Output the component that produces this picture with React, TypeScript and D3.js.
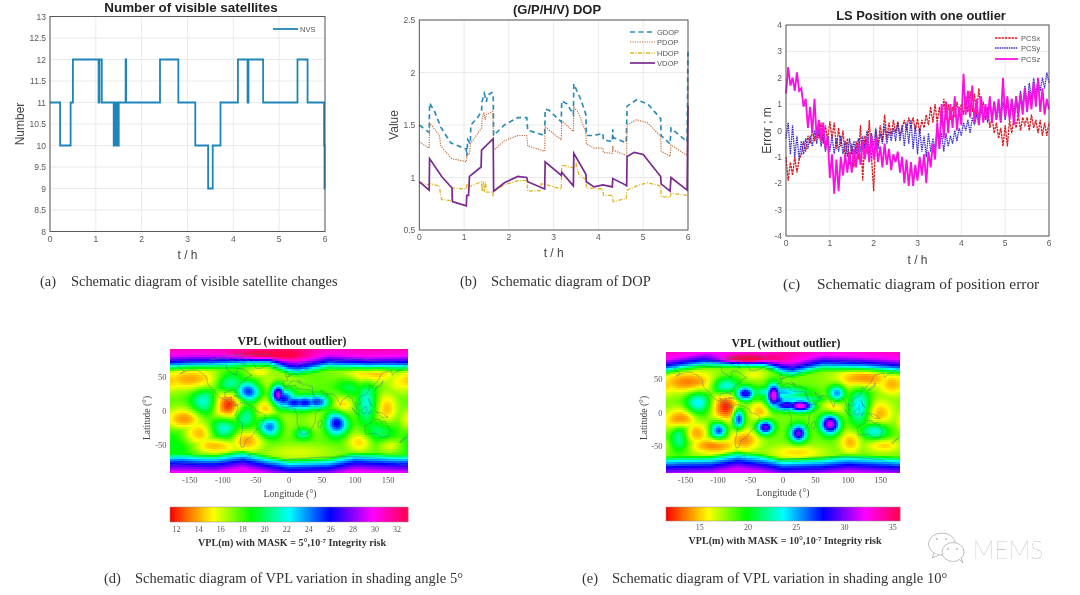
import React, { useMemo } from "react";
import * as d3 from "d3";

// ---------- panel (a) ----------
const nvsSteps: [number, number][] = [[0,11],[.22,10],[.45,11],[.5,12],[1.06,11],[1.08,12],[1.13,11],[1.39,10],[1.41,11],[1.42,10],[1.44,11],[1.45,10],[1.47,11],[1.48,10],[1.5,11],[1.65,12],[1.66,11],[2.4,12],[2.8,11],[3.17,10],[3.45,9],[3.55,10],[3.72,11],[4.1,12],[4.31,11],[4.33,12],[4.65,11],[5.4,12],[5.62,11],[5.98,10],[5.99,9],[6,9]];
const nvsTicksY = [8,8.5,9,9.5,10,10.5,11,11.5,12,12.5,13];
const hourTicks = [0,1,2,3,4,5,6];

// ---------- panel (b) ----------
const gdop: [number,number][] = [[0,1.5],[.22,1.43],[.23,1.71],[.35,1.62],[.48,1.48],[.7,1.33],[1.05,1.27],[1.06,1.2],[1.08,1.36],[1.14,1.32],[1.15,1.5],[1.3,1.57],[1.39,1.63],[1.4,1.72],[1.45,1.8],[1.5,1.72],[1.52,1.78],[1.62,1.81],[1.65,1.8],[1.66,1.4],[1.9,1.5],[2.2,1.57],[2.4,1.57],[2.42,1.45],[2.8,1.4],[2.81,1.65],[2.9,1.64],[3.17,1.53],[3.18,1.73],[3.3,1.7],[3.44,1.6],[3.45,1.89],[3.6,1.75],[3.72,1.6],[3.73,1.4],[3.9,1.4],[4.1,1.42],[4.11,1.36],[4.31,1.34],[4.32,1.46],[4.33,1.38],[4.62,1.33],[4.64,1.68],[4.85,1.74],[5.1,1.7],[5.39,1.56],[5.4,1.4],[5.6,1.32],[5.62,1.47],[5.98,1.34],[6,2.2]];
const pdop: [number,number][] = [[0,1.34],[.22,1.28],[.23,1.52],[.45,1.4],[.48,1.3],[.72,1.18],[1.05,1.15],[1.06,1.22],[1.12,1.22],[1.14,1.32],[1.39,1.47],[1.4,1.55],[1.44,1.62],[1.47,1.55],[1.5,1.6],[1.64,1.63],[1.66,1.26],[1.9,1.35],[2.2,1.4],[2.4,1.4],[2.42,1.3],[2.8,1.25],[2.81,1.48],[3.17,1.36],[3.18,1.54],[3.44,1.44],[3.45,1.67],[3.55,1.62],[3.72,1.43],[3.73,1.32],[3.9,1.28],[4.1,1.28],[4.11,1.24],[4.31,1.23],[4.32,1.3],[4.33,1.26],[4.63,1.21],[4.64,1.5],[4.85,1.55],[5.1,1.52],[5.39,1.39],[5.4,1.25],[5.6,1.2],[5.62,1.31],[5.98,1.21],[6,1.93]];
const hdop: [number,number][] = [[0,.95],[.22,.93],[.25,.94],[.45,.92],[.47,.85],[.5,.79],[.72,.78],[.74,.9],[1.05,.89],[1.06,.94],[1.1,.91],[1.39,.96],[1.4,.87],[1.43,.96],[1.45,.86],[1.48,.96],[1.5,.86],[1.64,.86],[1.65,.82],[1.66,.87],[1.9,.93],[2.2,.97],[2.4,.97],[2.42,.87],[2.7,.875],[2.72,.94],[2.85,.93],[3.17,.89],[3.18,1.12],[3.45,1.09],[3.5,1.13],[3.56,1.03],[3.72,.98],[3.73,.9],[4.1,.89],[4.11,.83],[4.31,.83],[4.33,.77],[4.62,.8],[4.64,.88],[4.85,.92],[5.1,.95],[5.39,.92],[5.4,.82],[5.6,.81],[5.62,.85],[5.98,.83],[6,.85]];
const vdop: [number,number][] = [[0,.96],[.22,.88],[.23,1.18],[.5,1.01],[.73,.9],[.74,.77],[1.05,.73],[1.06,.83],[1.1,.83],[1.12,1.01],[1.38,1.1],[1.39,1.26],[1.65,1.37],[1.66,.87],[1.9,.95],[2.2,1.01],[2.4,1.0],[2.42,.96],[2.8,.89],[2.81,1.15],[3.17,1.02],[3.18,1.05],[3.44,.92],[3.45,1.23],[3.72,1.03],[3.73,.96],[3.9,.91],[4.1,.93],[4.31,.91],[4.32,.99],[4.6,.93],[4.63,.92],[4.64,1.2],[4.8,1.24],[5.0,1.22],[5.39,1.01],[5.4,.94],[5.6,.87],[5.62,1.0],[5.98,.88],[6,1.68]];
const dopTicksY = [.5,1,1.5,2,2.5];

// ---------- panel (c): one reading every 0.05 h ----------
const pcsStep = 0.05;
const pcsx = [-1.0,-1.9,-1.2,-1.7,-1.0,-1.6,-1.1,-0.9,-0.4,-0.8,-0.2,-0.5,0.0,-0.4,0.1,-0.3,0.3,-0.5,0.2,-0.4,0.35,-0.3,0.3,-0.7,0.1,-0.6,0.0,-1.0,-0.3,-1.3,-0.5,-1.4,-0.4,-1.1,0.2,-1.9,-0.2,-0.9,0.4,-1.0,-2.3,0.0,-0.6,0.2,-0.4,0.6,-0.3,0.3,-0.2,0.4,-0.1,0.35,-0.2,0.1,0.4,0.0,0.5,0.1,0.5,0.0,0.45,-0.1,0.4,0.1,0.6,0.2,0.9,0.3,1.0,0.3,0.9,0.2,1.2,0.4,1.0,0.4,0.9,0.5,1.1,0.6,1.0,0.6,1.3,0.7,1.5,0.7,1.4,0.6,1.6,0.8,1.1,0.4,0.9,0.1,0.5,-0.1,0.3,-0.3,0.1,-0.6,0.2,-0.6,0.4,-0.1,0.5,0.1,0.6,0.0,0.5,0.2,0.5,0.0,0.6,0.1,0.4,-0.1,0.4,-0.2,0.3,-0.2,0.3];
const pcsy = [-0.3,0.3,-0.9,0.2,-1.0,-0.2,-1.1,-0.4,-0.9,-0.3,-0.7,-0.2,-0.6,0.0,-0.5,0.1,-0.6,-0.1,-0.8,-0.2,-0.8,-0.2,-0.9,-0.3,-0.8,-0.2,-0.9,-0.4,-1.0,-0.3,-0.9,-0.4,-0.9,-0.3,-0.8,-0.2,-0.7,0.0,-0.8,-0.1,-0.6,0.1,-0.7,-0.1,-0.5,0.2,-0.5,0.0,-0.4,0.1,-0.4,0.3,-0.4,0.2,-0.6,0.3,-0.5,0.4,-0.7,0.2,-0.9,0.1,-0.8,-0.2,-1.0,-0.1,-0.8,-0.3,-0.7,0.1,-0.7,-0.1,-0.8,-0.1,-0.6,-0.2,-0.5,0.0,-0.4,0.1,-0.2,0.3,0.0,0.4,-0.1,0.5,0.2,0.6,0.2,0.8,0.4,0.9,0.3,1.0,0.5,1.1,0.4,0.9,0.3,1.1,0.4,1.0,0.5,1.2,0.7,1.3,0.8,1.5,0.9,1.7,1.0,1.8,1.2,2.0,1.4,1.9,1.5,2.0,1.6,2.2,1.8];
const pcsz = [1.4,2.4,1.7,2.0,1.5,2.2,1.5,1.6,0.9,1.2,0.1,0.9,-0.1,1.2,-0.3,0.4,-0.4,0.3,-0.7,-0.2,-1.8,-0.9,-2.4,-1.1,-2.3,-1.0,-1.7,-0.9,-1.6,-0.8,-1.6,-0.7,-1.4,-0.5,-1.3,-0.4,-1.1,-0.3,-1.2,-0.2,-1.1,-0.3,-1.2,-0.6,-1.4,-0.5,-1.3,-0.7,-1.5,-0.9,-1.2,-0.8,-1.6,-1.0,-2.0,-1.1,-2.1,-1.2,-2.1,-1.3,-1.9,-1.0,-1.7,-0.9,-2.0,-0.8,-1.4,-0.5,-1.1,0.3,-0.7,1.0,-0.3,1.1,-0.1,1.0,0.1,1.3,0.0,0.9,0.2,2.15,0.6,1.5,0.5,1.7,0.3,1.2,0.2,1.3,0.3,1.0,0.4,1.3,0.3,1.1,0.4,1.2,0.3,2.0,0.5,1.3,0.4,1.2,0.2,1.3,0.5,1.4,0.6,1.6,0.7,1.5,0.8,1.8,0.9,2.0,0.7,1.6,0.6,1.2,0.8];
const pcsTicksY = [-4,-3,-2,-1,0,1,2,3,4];

// ---------- panels (d), (e): VPL hot and cold centres [lon, lat, rLon, rLat, VPL] ----------
type Blob = [number,number,number,number,number];
const vplBlobsD: Blob[] = [
  [-148,46,22,8,13.8],[-178,44,12,8,14.5],[-92,9,11,10,11.8],[-160,-13,13,8,13],[-140,-33,13,9,13.8],[-110,-50,18,6,14],[-64,-43,13,8,13.8],
  [-34,4,8,8,14.2],[-44,56,9,4,15.2],[123,54,20,7,14],[172,42,12,8,15],[82,9,8,8,14.5],[148,2,8,12,14.2],[107,-45,9,7,14.5],[153,-50,9,5,15.5],[14,-60,28,6,15.8],
  [-20,42,18,9,16],[45,-15,12,10,16.3],[-5,-15,10,12,16.5],
  [-127,14,10,9,22],[-97,-25,10,8,22],[-89,39,10,8,21.5],[-62,28,9,7,25.5],[-67,-8,8,9,21.5],[-29,-23,8,7,24.5],
  [-16,24,5,7,29.5],[-8,18,9,7,26],[8,12,11,5,26],[24,12,10,5,26],[42,13,9,5,25.5],
  [72,-18,8,8,26.5],[22,-33,6,4,21.5],[118,12,7,15,21.8],[92,34,10,8,20],[138,-28,12,8,20.5],[-165,-45,12,15,19.5]];
const vplBlobsE: Blob[] = [
  [-145,45,22,8,13.5],[-178,42,10,8,15],[-88,8,10,10,12],[-158,-12,11,8,12.8],[-137,-31,12,8,14],[-106,-49,18,6,13.5],[-60,-41,12,8,13.8],
  [-35,3,8,8,14.5],[124,50,20,7,13.5],[168,42,11,8,14.5],[78,8,8,8,15],[147,-2,11,10,14.3],[104,-44,8,8,14.5],[155,-49,13,5,15],[22,-59,20,5,15.2],[-44,56,10,4,16],
  [-14,25,5,8,33],[-10,18,8,5,28],[6,11,12,4,29],[27,10,9,4,33],[-58,28,7,5,29],[-68,-9,4,7,28],[-27,-22,6,5,30],[24,-31,6,6,30],[73,-17,7,7,32],
  [-99,-27,6,6,27],[83,28,6,6,26],[-130,15,9,8,24],[-88,40,10,6,24],[119,8,8,13,24.5],[142,-27,10,6,24],[-158,-36,7,10,23.5],[-5,30,20,4,25],[10,20,25,3,24]];
const redTopD: Blob[] = [[-38,81,24,3.5,23]];
const redTopE: Blob[] = [[-55,79,20,3.5,28]];
const topEdgeLon = [-180,-120,-60,-30,0,15,60,120,180];
const topEdgeLatD = [64,66,70,70,58,57,66,62,64];
const topEdgeLatE = [62,72,73,72,60,58,68,66,62];
const botEdgeLon = [-180,-110,-70,-30,0,60,100,180];
const botEdgeLatD = [-68,-68,-62,-70,-75,-73,-65,-69];
const botEdgeLatE = [-71,-69,-62,-67,-73,-71,-67,-71];
const colorStopPos = [0,.07,.18,.34,.5,.67,.85,1];
const colorStopHex = ["#ff0000","#ff6a00","#ffff00","#00ff00","#00ffff","#0000ff","#ff00ff","#ff0048"];
const lonTicks = [-150,-100,-50,0,50,100,150];
const latTicks = [-50,0,50];
const cbTicksD = [12,14,16,18,20,22,24,26,28,30,32];
const cbTicksE = [15,20,25,30,35];

// ---------- coastlines [lon, lat] ----------
const coasts: [number,number][][] = [
  [[-168,66],[-156,71],[-140,70],[-125,70],[-110,68],[-95,68],[-94,60],[-85,55],[-80,52],[-79,57],[-78,62],[-70,61],[-65,58],[-60,54],[-56,52],[-65,48],[-66,44],[-70,42],[-74,40],[-76,35],[-81,31],[-80,26],[-82,28],[-84,30],[-90,29],[-97,27],[-97,20],[-91,18],[-87,21],[-88,16],[-83,12],[-80,9],[-78,8],[-83,8],[-90,13],[-96,16],[-105,20],[-110,25],[-114,31],[-117,33],[-122,38],[-124,43],[-124,48],[-130,54],[-138,59],[-148,60],[-155,58],[-165,54],[-158,58],[-165,62],[-168,66]],
  [[-73,78],[-60,82],[-30,83],[-20,75],[-25,70],[-42,62],[-50,62],[-54,70],[-68,76],[-73,78]],
  [[-78,8],[-72,12],[-62,10],[-52,5],[-50,0],[-40,-3],[-35,-7],[-39,-15],[-41,-22],[-48,-26],[-54,-34],[-58,-38],[-65,-42],[-68,-52],[-72,-53],[-74,-45],[-71,-30],[-70,-18],[-76,-14],[-81,-5],[-78,2],[-78,8]],
  [[-6,35],[10,37],[11,33],[20,31],[32,31],[35,28],[38,18],[43,12],[51,12],[47,3],[40,-4],[40,-15],[35,-24],[28,-33],[19,-34],[15,-26],[12,-16],[13,-6],[9,0],[9,4],[-4,5],[-10,6],[-17,14],[-16,21],[-10,30],[-6,35]],
  [[-9,37],[-9,43],[-1,44],[-4,48],[8,54],[12,54],[21,57],[29,60],[22,61],[22,66],[16,62],[6,60],[14,68],[28,71],[40,67],[60,69],[70,73],[85,74],[105,77],[130,72],[160,70],[178,66],[170,60],[162,57],[156,52],[155,59],[140,55],[135,44],[128,38],[126,34],[122,38],[121,31],[117,24],[108,21],[106,16],[109,12],[105,9],[100,13],[103,2],[98,9],[96,17],[90,22],[80,15],[78,8],[73,18],[67,25],[57,25],[52,28],[48,30],[52,24],[59,22],[52,16],[43,12],[36,28],[35,36],[28,37],[26,40],[22,37],[19,42],[13,45],[18,40],[12,42],[8,44],[3,43],[0,39],[-5,36],[-9,37]],
  [[114,-22],[122,-18],[130,-12],[136,-12],[140,-17],[145,-15],[153,-27],[150,-37],[140,-38],[131,-32],[116,-34],[114,-22]],
  [[109,1],[117,7],[118,1],[115,-4],[110,-2],[109,1]],
  [[95,5],[104,-3],[106,-6],[100,-3],[95,5]],
  [[131,-1],[141,-3],[150,-9],[141,-9],[135,-4],[131,-1]],
  [[119,-3],[125,1],[122,-5],[119,-3]],
  [[120,18],[122,14],[126,7],[123,10],[120,18]],
  [[130,32],[136,35],[141,38],[142,44],[140,40],[133,35],[130,32]],
  [[44,-16],[49,-13],[50,-18],[47,-25],[44,-22],[44,-16]],
  [[-5,50],[1,51],[-2,56],[-5,58],[-5,54],[-5,50]],
  [[-24,65],[-14,66],[-15,64],[-22,63],[-24,65]],
  [[-84,22],[-75,20],[-78,22],[-84,22]],
  [[167,-46],[172,-41],[178,-38],[174,-41],[171,-45],[167,-46]],
  [[-120,74],[-100,76],[-85,73],[-75,70],[-65,66],[-70,72],[-85,80],[-70,83],[-95,80],[-120,74]],
  [[-180,-78],[-150,-76],[-100,-74],[-75,-71],[-58,-63],[-60,-70],[-30,-77],[0,-70],[50,-67],[100,-66],[150,-70],[170,-78],[180,-78]],
];

// ---------- shared drawing ----------
const SANS = "'Liberation Sans', Arial, sans-serif";
const SERIF = "'Liberation Serif', 'Times New Roman', serif";
const GRID = "#e4e4e4", BOX = "#4a4a4a", TICK = "#5a5a5a";

type Frame = { x0:number; x1:number; y0:number; y1:number };
function LineAxes({ f, xs, ys, yDomain, title, titleX, titleY, titleSize, yLabel, yLabelX, xLabelY }: any) {
  const x = d3.scaleLinear().domain([0,6]).range([f.x0,f.x1]);
  const y = d3.scaleLinear().domain(yDomain).range([f.y1,f.y0]);
  return (
    <g fontFamily={SANS}>
      {xs.map((t:number)=><line key={t} x1={x(t)} x2={x(t)} y1={f.y0} y2={f.y1} stroke={GRID} strokeWidth={.8}/>)}
      {ys.map((t:number)=><line key={t} x1={f.x0} x2={f.x1} y1={y(t)} y2={y(t)} stroke={GRID} strokeWidth={.8}/>)}
      {xs.map((t:number)=><text key={t} x={x(t)} y={f.y1+10} textAnchor="middle" fontSize={8.5} fill={TICK}>{t}</text>)}
      {ys.map((t:number)=><text key={t} x={f.x0-4} y={y(t)+3} textAnchor="end" fontSize={8.5} fill={TICK}>{t}</text>)}
      <text x={titleX} y={titleY} textAnchor="middle" fontSize={titleSize} fontWeight="bold" fill="#222">{title}</text>
      <text transform={`translate(${yLabelX},${(f.y0+f.y1)/2}) rotate(-90)`} textAnchor="middle" fontSize={12} fill="#444">{yLabel}</text>
      <text x={(f.x0+f.x1)/2} y={xLabelY} textAnchor="middle" fontSize={12} fill="#444">t / h</text>
    </g>
  );
}
const Box = ({ f }: { f: Frame }) => <rect x={f.x0} y={f.y0} width={f.x1-f.x0} height={f.y1-f.y0} fill="none" stroke={BOX} strokeWidth={.9}/>;

const BLOB_SPREAD = 1.45;
function vplField(blobs: Blob[], topLat: number[], botLat: number[], base: number, scale: number) {
  const top = d3.scaleLinear().domain(topEdgeLon).range(topLat);
  const bot = d3.scaleLinear().domain(botEdgeLon).range(botLat);
  const riseTop = d3.scaleLinear().domain([-8,0,3,8,17,30]).range([0,4,6.5,9,12.5,14]).clamp(true);
  const riseBot = d3.scaleLinear().domain([-6,0,5,11,21]).range([0,4,6.5,8.8,12]).clamp(true);
  return (lon:number, lat:number) => {
    let up = 0, down = 0;
    for (const [bx,by,rx,ry,p] of blobs) {
      let dl = Math.abs(lon-bx); if (dl>180) dl = 360-dl;
      const c = (p-base)*Math.exp(-.5*((dl/(rx*BLOB_SPREAD))**2+((lat-by)/(ry*BLOB_SPREAD))**2));
      if (c>up) up = c; if (c<down) down = c;
    }
    return base + up + down + scale*(riseTop(lat-top(lon)) + riseBot(bot(lon)-lat));
  };
}

function VplMap({ blobs, topLat, botLat, extra, base, scale, dom, m, bar, cbTicks, title, titleX, titleY, latX, lonLabelX, lonLabelY, cbLabel, cbLabelX, cbLabelY, cbTickY, id }: any) {
  const x = d3.scaleLinear().domain([-180,180]).range([m.x0,m.x1]);
  const y = d3.scaleLinear().domain([90,-90]).range([m.y0,m.y1]);
  const hue = d3.scaleLinear<string>().domain(colorStopPos).range(colorStopHex).interpolate(d3.interpolateRgb).clamp(true);
  const val = d3.scaleLinear().domain(dom).range([0,1]).clamp(true);
  const cells = useMemo(() => {
    const f = vplField(blobs.concat(extra), topLat, botLat, base, scale);
    const out: any[] = [];
    const cell = 2;
    for (let py=m.y0; py<m.y1; py+=cell) for (let px=m.x0; px<m.x1; px+=cell) {
      const lon = x.invert(px+cell/2), lat = y.invert(py+cell/2);
      out.push({ px, py, c: hue(val(f(lon,lat))) });
    }
    return out;
  }, []);
  const coast = d3.line<[number,number]>().x(d=>x(d[0])).y(d=>y(d[1]));
  const barX = d3.scaleLinear().domain(dom).range([bar.x0,bar.x1]);
  const barCells = d3.range(bar.x0,bar.x1,1);
  const clip = `mapclip-${id}`;
  return (
    <g>
      <clipPath id={clip}><rect x={m.x0} y={m.y0} width={m.x1-m.x0} height={m.y1-m.y0}/></clipPath>
      <g clipPath={`url(#${clip})`}>
        {cells.map((c,i)=><rect key={i} x={c.px} y={c.py} width={2.2} height={2.2} fill={c.c}/>)}
        {coasts.map((c,i)=><path key={i} d={coast(c)!} fill="none" stroke="#3f6e8c" strokeWidth={.55} strokeOpacity={.75}/>)}
      </g>
      <text x={titleX} y={titleY} textAnchor="middle" fontFamily={SERIF} fontWeight="bold" fontSize={11.8} fill="#222">{title}</text>
      {lonTicks.map(t=><text key={t} x={x(t)} y={m.y1+10} textAnchor="middle" fontFamily={SERIF} fontSize={8.5} fill="#555">{t}</text>)}
      {latTicks.map(t=><text key={t} x={m.x0-3.5} y={y(t)+3} textAnchor="end" fontFamily={SERIF} fontSize={8.5} fill="#555">{t}</text>)}
      <text transform={`translate(${latX},418) rotate(-90)`} textAnchor="middle" fontFamily={SERIF} fontSize={9.5} fill="#444">Latitude (°)</text>
      <text x={lonLabelX} y={lonLabelY} textAnchor="middle" fontFamily={SERIF} fontSize={9.8} fill="#444">Longitude (°)</text>
      {barCells.map(px=><rect key={px} x={px} y={bar.y0} width={1.3} height={bar.y1-bar.y0} fill={hue((px-bar.x0)/(bar.x1-bar.x0))}/>)}
      <rect x={bar.x0} y={bar.y0} width={bar.x1-bar.x0} height={bar.y1-bar.y0} fill="none" stroke="#888" strokeWidth={.5}/>
      {cbTicks.map((t:number)=><text key={t} x={barX(t)} y={cbTickY} textAnchor="middle" fontFamily={SERIF} fontSize={8} fill="#555">{t}</text>)}
      <text x={cbLabelX} y={cbLabelY} textAnchor="middle" fontFamily={SERIF} fontWeight="bold" fontSize={10.1} fill="#333">VPL(m) with MASK = {cbLabel}°,10<tspan dy={-3} fontSize={7}>-7</tspan><tspan dy={3}> Integrity risk</tspan></text>
    </g>
  );
}

export default function App() {
  const fa: Frame = { x0:50, x1:325, y0:16.5, y1:231.5 };
  const fb: Frame = { x0:419.3, x1:688, y0:20, y1:230 };
  const fc: Frame = { x0:786, x1:1049, y0:25, y1:236 };
  const xa = d3.scaleLinear().domain([0,6]).range([fa.x0,fa.x1]);
  const ya = d3.scaleLinear().domain([8,13]).range([fa.y1,fa.y0]);
  const xb = d3.scaleLinear().domain([0,6]).range([fb.x0,fb.x1]);
  const yb = d3.scaleLinear().domain([.5,2.5]).range([fb.y1,fb.y0]);
  const xc = d3.scaleLinear().domain([0,6]).range([fc.x0,fc.x1]);
  const yc = d3.scaleLinear().domain([-4,4]).range([fc.y1,fc.y0]);
  const stepLine = d3.line<[number,number]>().x(d=>xa(d[0])).y(d=>ya(d[1])).curve(d3.curveStepAfter);
  const dopLine = d3.line<[number,number]>().x(d=>xb(d[0])).y(d=>yb(d[1]));
  const pcsLine = d3.line<number>().x((_,i)=>xc(i*pcsStep)).y(d=>yc(d));
  const dopSeries = [
    { n:"GDOP", d:gdop, c:"#2f8db6", w:1.7, dash:"5 3.5" },
    { n:"PDOP", d:pdop, c:"#c4703f", w:1.2, dash:"1.2 1.2" },
    { n:"HDOP", d:hdop, c:"#e0b522", w:1.3, dash:"4 1.5 1 1.5" },
    { n:"VDOP", d:vdop, c:"#7a2a8f", w:1.7, dash:"" },
  ];
  const pcsSeries = [
    { n:"PCSx", d:pcsx, c:"#d9181e", w:1.3, dash:"2.5 .8" },
    { n:"PCSy", d:pcsy, c:"#3528cf", w:1.3, dash:"1.5 .8" },
    { n:"PCSz", d:pcsz, c:"#ff08e4", w:1.8, dash:"" },
  ];
  const capColor = "#333";
  return (
    <svg width={1080} height={595} viewBox="0 0 1080 595" style={{position:"absolute",left:0,top:0,display:"block",background:"#fff"}}>
      <defs>
        <filter id="soft" x="0" y="0" width="1080" height="595" filterUnits="userSpaceOnUse"><feGaussianBlur stdDeviation=".55"/></filter>
      </defs>
      <rect width={1080} height={595} fill="#fff"/>
      <g filter="url(#soft)">
        {/* (a) */}
        <LineAxes f={fa} xs={hourTicks} ys={nvsTicksY} yDomain={[8,13]} title="Number of visible satellites" titleX={191} titleY={12} titleSize={13.4} yLabel="Number" yLabelX={24} xLabelY={259}/>
        <path d={stepLine(nvsSteps)!} fill="none" stroke="#1f86b8" strokeWidth={1.8}/>
        <Box f={fa}/>
        <line x1={273} x2={298} y1={29} y2={29} stroke="#1f86b8" strokeWidth={1.8}/>
        <text x={300} y={32} fontFamily={SANS} fontSize={7.5} fill="#555">NVS</text>

        {/* (b) */}
        <LineAxes f={fb} xs={hourTicks} ys={dopTicksY} yDomain={[.5,2.5]} title="(G/P/H/V) DOP" titleX={557} titleY={14} titleSize={13} yLabel="Value" yLabelX={398} xLabelY={257}/>
        {dopSeries.map(s=><path key={s.n} d={dopLine(s.d)!} fill="none" stroke={s.c} strokeWidth={s.w} strokeDasharray={s.dash}/>)}
        <Box f={fb}/>
        {dopSeries.map((s,i)=>{ const ly=[32,42,53,63][i]; return <g key={s.n}><line x1={630} x2={655} y1={ly} y2={ly} stroke={s.c} strokeWidth={s.w} strokeDasharray={s.dash}/><text x={657} y={ly+3} fontFamily={SANS} fontSize={7.5} fill="#555">{s.n}</text></g>; })}

        {/* (c) */}
        <LineAxes f={fc} xs={hourTicks} ys={pcsTicksY} yDomain={[-4,4]} title="LS Position with one outlier" titleX={921} titleY={20} titleSize={12.9} yLabel="Error ; m" yLabelX={771} xLabelY={264}/>
        {pcsSeries.map(s=><path key={s.n} d={pcsLine(s.d)!} fill="none" stroke={s.c} strokeWidth={s.w} strokeDasharray={s.dash}/>)}
        <Box f={fc}/>
        {pcsSeries.map((s,i)=>{ const ly=[38,48,59][i]; return <g key={s.n}><line x1={995} x2={1018} y1={ly} y2={ly} stroke={s.c} strokeWidth={s.w} strokeDasharray={s.dash}/><text x={1021} y={ly+3} fontFamily={SANS} fontSize={7.5} fill="#555">{s.n}</text></g>; })}

        {/* captions */}
        <text x={40} y={286} fontFamily={SERIF} fontSize={14.4} fill={capColor}>(a)</text>
        <text x={71} y={286} fontFamily={SERIF} fontSize={14.4} fill={capColor}>Schematic diagram of visible satellite changes</text>
        <text x={460} y={286} fontFamily={SERIF} fontSize={14.5} fill={capColor}>(b)</text>
        <text x={491} y={286} fontFamily={SERIF} fontSize={14.5} fill={capColor}>Schematic diagram of DOP</text>
        <text x={783} y={289} fontFamily={SERIF} fontSize={15.4} fill={capColor}>(c)</text>
        <text x={817} y={289} fontFamily={SERIF} fontSize={15.4} fill={capColor}>Schematic diagram of position error</text>

        {/* (d) */}
        <VplMap id="d" blobs={vplBlobsD} extra={redTopD} topLat={topEdgeLatD} botLat={botEdgeLatD} base={17.5} scale={1} dom={[11.4,33]}
          m={{x0:170,x1:408,y0:349,y1:473}} bar={{x0:170,x1:408,y0:507,y1:522}} cbTicks={cbTicksD}
          title="VPL (without outlier)" titleX={292} titleY={345} latX={150} lonLabelX={290} lonLabelY={497}
          cbLabel="5" cbLabelX={292} cbLabelY={546} cbTickY={532}/>
        <text x={104} y={583} fontFamily={SERIF} fontSize={14.5} fill={capColor}>(d)</text>
        <text x={135} y={583} fontFamily={SERIF} fontSize={14.5} fill={capColor}>Schematic diagram of VPL variation in shading angle 5°</text>

        {/* (e) */}
        <VplMap id="e" blobs={vplBlobsE} extra={redTopE} topLat={topEdgeLatE} botLat={botEdgeLatE} base={18} scale={1.12} dom={[11.5,35.75]}
          m={{x0:666,x1:900,y0:352,y1:473}} bar={{x0:666,x1:900,y0:507,y1:521}} cbTicks={cbTicksE}
          title="VPL (without outlier)" titleX={786} titleY={347} latX={647} lonLabelX={783} lonLabelY={496}
          cbLabel="10" cbLabelX={785} cbLabelY={544} cbTickY={530}/>
        <text x={582} y={583} fontFamily={SERIF} fontSize={14.5} fill={capColor}>(e)</text>
        <text x={612} y={583} fontFamily={SERIF} fontSize={14.5} fill={capColor}>Schematic diagram of VPL variation in shading angle 10°</text>

        {/* watermark */}
        <g fill="#fff" stroke="#b8b8b8" strokeWidth={.9}>
          <ellipse cx={942} cy={544} rx={13.5} ry={11}/>
          <path d="M934 553 L932 558 L939 555" />
          <ellipse cx={953} cy={552} rx={11} ry={9.5}/>
          <path d="M959 559 L963 563 L961 557"/>
        </g>
        <g fill="#b8b8b8">
          <circle cx={937} cy={539} r={1}/><circle cx={946} cy={539} r={1}/>
          <circle cx={948} cy={549} r={1}/><circle cx={957} cy={549} r={1}/>
        </g>
        <text x={973} y={559} fontFamily="Lato, 'Noto Sans', sans-serif" fontWeight={100} fontSize={25} fill="#9a9a9a" textLength={70} lengthAdjust="spacingAndGlyphs">MEMS</text>
      </g>
    </svg>
  );
}
